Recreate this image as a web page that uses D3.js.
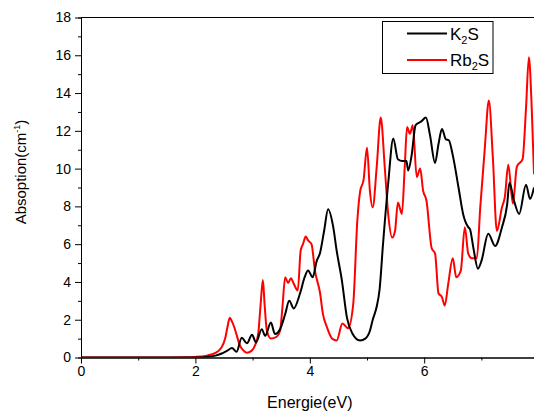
<!DOCTYPE html>
<html>
<head>
<meta charset="utf-8">
<script src="https://cdn.jsdelivr.net/npm/d3@7"></script>
<style>
  body { margin: 0; background: #fff; }
  text { font-family: "Liberation Sans", Arial, sans-serif; }
</style>
</head>
<body>
<div id="chart"></div>
<script>
// K2S absorption
var energyK = [0, 1.0, 2.0, 2.2, 2.35, 2.45, 2.55, 2.64, 2.72, 2.81, 2.9, 2.99, 3.06, 3.16, 3.22, 3.32, 3.39, 3.48,
  3.57, 3.64, 3.72, 3.83, 3.91, 3.97, 4.05, 4.12, 4.18, 4.25, 4.32, 4.41, 4.47, 4.56, 4.65, 4.74, 4.88, 4.97,
  5.05, 5.1, 5.17, 5.22, 5.28, 5.37, 5.46, 5.54, 5.62, 5.69, 5.72, 5.78, 5.85, 5.95, 6.03, 6.1, 6.19, 6.25,
  6.31, 6.38, 6.43, 6.5, 6.6, 6.68, 6.77, 6.8, 6.86, 6.94, 7.0, 7.12, 7.24, 7.36, 7.45, 7.49, 7.57, 7.66,
  7.78, 7.85, 7.92]
var absK = [0, 0, 0, 0.03, 0.1, 0.2, 0.35, 0.5, 0.3, 1.05, 0.75, 1.2, 0.8, 1.5, 1.15, 1.85, 1.25, 1.5,
  2.3, 3.0, 2.6, 3.4, 4.25, 4.6, 4.25, 5.1, 5.55, 6.7, 7.85, 6.9, 5.65, 4.1, 2.1, 1.3, 0.9, 1.0,
  1.4, 2.0, 2.7, 3.6, 6.0, 9.2, 11.6, 10.5, 10.4, 10.4, 9.9, 10.7, 12.3, 12.5, 12.7, 11.8, 10.3, 11.3,
  12.1, 11.55, 11.5, 10.7, 9.0, 7.6, 6.9, 6.8, 5.8, 4.7, 5.1, 6.55, 5.9, 6.9, 8.1, 9.25, 8.3, 7.6,
  9.15, 8.4, 9.0]

// Rb2S absorption
var energyRb = [0, 1.0, 1.8, 2.0, 2.2, 2.35, 2.45, 2.52, 2.56, 2.6, 2.64, 2.68, 2.72, 2.77, 2.83, 2.9, 2.98,
  3.05, 3.1, 3.14, 3.18, 3.21, 3.25, 3.32, 3.42, 3.48, 3.52, 3.57, 3.62, 3.67, 3.72, 3.79, 3.84, 3.88, 3.93,
  3.97, 4.03, 4.09, 4.18, 4.23, 4.3, 4.39, 4.47, 4.57, 4.67, 4.76, 4.83, 4.88, 4.94, 5.0, 5.05, 5.1, 5.17,
  5.24, 5.31, 5.37, 5.44, 5.49, 5.54, 5.61, 5.66, 5.7, 5.75, 5.8, 5.87, 5.93, 5.98, 6.04, 6.13, 6.19, 6.25,
  6.31, 6.36, 6.42, 6.5, 6.56, 6.64, 6.71, 6.77, 6.83, 6.92, 6.98, 7.06, 7.13, 7.2, 7.27, 7.36, 7.41, 7.47,
  7.55, 7.62, 7.72, 7.78, 7.83, 7.88, 7.92]
var absRb = [0, 0, 0.01, 0.03, 0.1, 0.25, 0.5, 1.0, 1.6, 2.1, 1.9, 1.6, 1.2, 0.7, 0.4, 0.25, 0.35,
  0.7, 1.3, 2.8, 4.1, 2.8, 1.4, 1.0, 1.1, 1.4, 2.6, 4.25, 3.95, 4.2, 3.9, 3.55, 5.65, 6.0, 6.4,
  6.2, 6.0, 4.6, 3.4, 2.3, 1.6, 1.0, 0.9, 1.8, 1.55, 2.85, 7.2, 8.8, 9.4, 11.1, 8.85, 7.95, 10.1,
  12.7, 10.1, 7.6, 6.35, 6.7, 8.2, 7.6, 10.1, 12.2, 11.85, 12.3, 9.55, 10.0, 8.85, 8.3, 5.8, 5.5, 3.4,
  3.2, 2.75, 3.9, 5.25, 4.25, 4.6, 6.9, 5.5, 5.25, 5.25, 7.95, 11.1, 13.6, 10.6, 6.7, 7.95, 8.5, 10.2,
  8.15, 10.1, 10.5, 13.2, 15.9, 13.2, 9.7]

var seriesColors = ["#000000", "#ff0000"]
var xTicks = [0, 2, 4, 6]
var yTicks = [0, 2, 4, 6, 8, 10, 12, 14, 16, 18]

var width = 534, height = 413
var mLeft = 81, mTop = 17.5, mBottom = 357.5, mRight = 538.6

var svg = d3.select("#chart").append("svg")
  .attr("width", width)
  .attr("height", height)
  .style("display", "block")

svg.append("rect").attr("width", width).attr("height", height).attr("fill", "#fff")

var x = d3.scaleLinear().domain([0, 8]).range([mLeft, mRight])
var y = d3.scaleLinear().domain([0, 18]).range([mBottom, mTop])

svg.append("clipPath").attr("id", "clip")
  .append("rect").attr("x", mLeft).attr("y", mTop - 2).attr("width", mRight - mLeft).attr("height", mBottom - mTop + 2)

// top frame line
svg.append("line")
  .attr("x1", mLeft).attr("x2", mRight).attr("y1", mTop).attr("y2", mTop)
  .attr("stroke", "#000").attr("stroke-width", 1)

// minor ticks
var gxm = svg.append("g").attr("transform", "translate(0," + mBottom + ")")
  .call(d3.axisBottom(x).tickValues([1, 3, 5, 7]).tickSize(3).tickFormat(""))
var gym = svg.append("g").attr("transform", "translate(" + mLeft + ",0)")
  .call(d3.axisLeft(y).tickValues(d3.range(1, 18, 2)).tickSize(3).tickFormat(""))

var gx = svg.append("g")
  .attr("transform", "translate(0," + mBottom + ")")
  .call(d3.axisBottom(x).tickValues(xTicks).tickSize(6).tickPadding(3).tickSizeOuter(0))
var gy = svg.append("g")
  .attr("transform", "translate(" + mLeft + ",0)")
  .call(d3.axisLeft(y).tickValues(yTicks).tickSize(6).tickPadding(4).tickSizeOuter(0))

;[gx, gy, gxm, gym].forEach(function (g) {
  g.selectAll("path").attr("stroke", "#000").attr("stroke-width", 1)
  g.selectAll("line").attr("stroke", "#000").attr("stroke-width", 1)
  g.selectAll("text").attr("fill", "#000").style("font-size", "14px")
    .style("font-family", '"Liberation Sans", Arial, sans-serif')
})

// lines
var line = d3.line()
  .x(function (d) { return x(d[0]) })
  .y(function (d) { return y(d[1]) })
  .curve(d3.curveMonotoneX)

var dataK = energyK.map(function (e, i) { return [e, absK[i]] })
var dataRb = energyRb.map(function (e, i) { return [e, absRb[i]] })

var plot = svg.append("g").attr("clip-path", "url(#clip)")
plot.append("path").datum(dataRb)
  .attr("d", line).attr("fill", "none")
  .attr("stroke", seriesColors[1]).attr("stroke-width", 2)
plot.append("path").datum(dataK)
  .attr("d", line).attr("fill", "none")
  .attr("stroke", seriesColors[0]).attr("stroke-width", 2)

// axis titles
svg.append("text")
  .attr("x", x(4)).attr("y", 408)
  .attr("text-anchor", "middle")
  .style("font-size", "16px")
  .text("Energie(eV)")

var yt = svg.append("text")
  .attr("transform", "translate(26,172) rotate(-90)")
  .attr("text-anchor", "middle")
  .style("font-size", "15px")
yt.append("tspan").text("Absoption(cm")
yt.append("tspan").attr("dy", -6).style("font-size", "9px").text("-1")
yt.append("tspan").attr("dy", 6).text(")")

// legend
var legend = svg.append("g")
legend.append("rect")
  .attr("x", 382.5).attr("y", 21.5).attr("width", 110.5).attr("height", 52)
  .attr("fill", "#fff").attr("stroke", "#000").attr("stroke-width", 1)

var legendRows = [
  { base: "K", sub: "2", tail: "S", color: seriesColors[0], y: 33.5 },
  { base: "Rb", sub: "2", tail: "S", color: seriesColors[1], y: 60 }
]
legendRows.forEach(function (r) {
  legend.append("line")
    .attr("x1", 407).attr("x2", 447).attr("y1", r.y).attr("y2", r.y)
    .attr("stroke", r.color).attr("stroke-width", 2)
  var t = legend.append("text")
    .attr("x", 450).attr("y", r.y + 6)
    .style("font-size", "17px")
  t.append("tspan").text(r.base)
  t.append("tspan").attr("dy", 4).style("font-size", "11px").text(r.sub)
  t.append("tspan").attr("dy", -4).text(r.tail)
})
</script>
</body>
</html>
